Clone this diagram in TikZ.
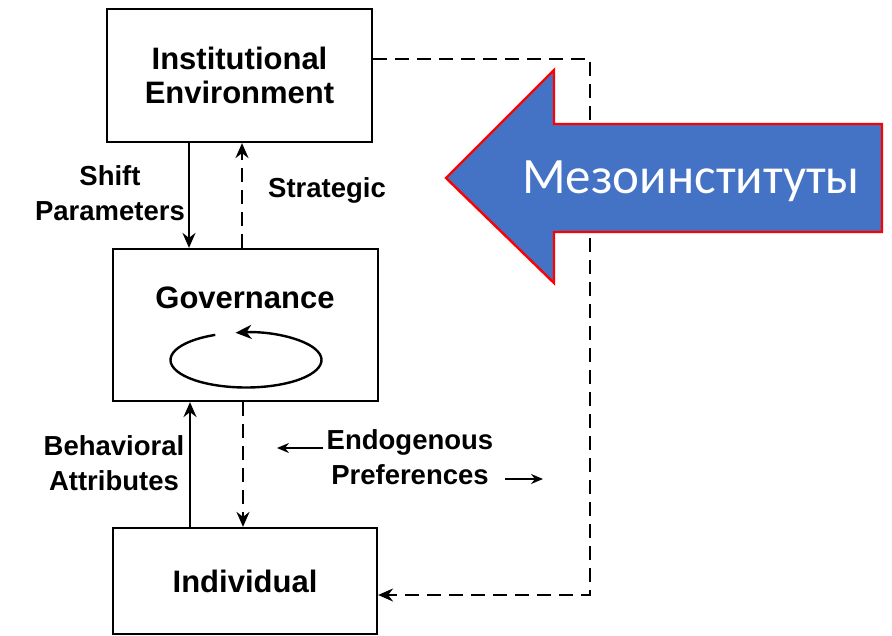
\documentclass[tikz,border=0pt]{standalone}
\usepackage{fontspec}
\setmainfont{Liberation Sans}
\newfontfamily\carlito{Carlito}
\usetikzlibrary{arrows.meta}
\definecolor{officeblue}{HTML}{4472C4}
\begin{document}
\begin{tikzpicture}[x=1pt,y=-1pt,
  box/.style={draw=black, line width=2.2pt, inner sep=0pt, align=center,
    font=\bfseries\fontsize{31}{34}\selectfont},
  lbl/.style={inner sep=0pt, align=center, font=\bfseries\fontsize{27.5}{35}\selectfont},
  conn/.style={line width=2pt, -{Stealth[length=15pt,width=13pt,inset=5pt]}},
  dconn/.style={conn, dash pattern=on 14pt off 8pt},
  small/.style={line width=1.6pt, -{Stealth[length=12pt,width=10pt,inset=4pt]}}]
\useasboundingbox (0,0) rectangle (892,636);
% boxes
\node[box, minimum width=265pt, minimum height=133pt] (inst) at (239.5,75.5) {Institutional\\Environment};
\node[box, minimum width=265pt, minimum height=152pt] (gov) at (245.5,325) {};
\node[box, minimum width=264pt, minimum height=106pt] (ind) at (245,581) {Individual};
\node[lbl, font=\bfseries\fontsize{31}{34}\selectfont] (gtext) at (245,298) {Governance};
% cycle in governance
\coordinate (ec) at (246,360);
\draw[line width=2.4pt, -{Stealth[length=16pt,width=14pt,inset=5pt]}] (ec) ++(246:75.5 and 27.5) arc[start angle=246, end angle=-98, x radius=75.5, y radius=27.5];
% coordinates for vertical connectors
\coordinate (xa) at (189,0);
\coordinate (xb) at (242,0);
\coordinate (xc) at (190,0);
\coordinate (xd) at (243,0);
\draw[conn] (inst.south -| xa) -- (gov.north -| xa);
\draw[dconn] (gov.north -| xb) -- (inst.south -| xb);
\draw[conn] (ind.north -| xc) -- (gov.south -| xc);
\draw[dconn] (gov.south -| xd) -- (ind.north -| xd);
% outer dashed loop
\coordinate (ya) at (0,59);
\coordinate (c1) at (590,59);
\coordinate (c2) at (590,595);
\draw[dconn] (inst.east |- ya) -- (c1) -- (c2) -- (ind.east |- c2);
% labels
\node[lbl] (shift) at (110,193) {Shift\\Parameters};
\node[lbl] (strat) at (327,190) {Strategic};
\node[lbl] (behav) at (114,463) {Behavioral\\Attributes};
\node[lbl] (endo) at (410,457) {Endogenous\\Preferences};
\coordinate (la) at (323,448);
\coordinate (lb) at (277,448);
\coordinate (ra) at (505,479);
\coordinate (rb) at (543,479);
\draw[small] (la) -- (lb);
\draw[small] (ra) -- (rb);
% big arrow
\draw[draw=red, line width=2.4pt, fill=officeblue, line join=miter]
  (446,178) -- (554,70) -- (554,124) -- (882,124) -- (882,232) -- (554,232) -- (554,283) -- cycle;
\node[text=white, inner sep=0pt, font=\carlito\fontsize{51}{60}\selectfont] (meso) at (691,181) {Мезоинституты};
\end{tikzpicture}
\end{document}
